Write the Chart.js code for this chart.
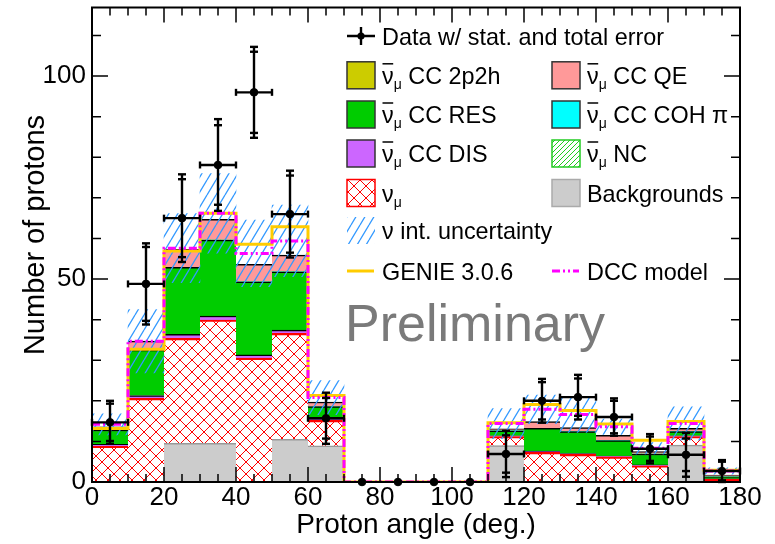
<!DOCTYPE html>
<html>
<head>
<meta charset="utf-8">
<script src="https://cdn.jsdelivr.net/npm/chart.js@4.4.1/dist/chart.umd.min.js"></script>
<style>
  body { margin: 0; background: #fff; }
  #wrap { width: 775px; height: 544px; }
</style>
</head>
<body>
<div id="wrap"><canvas id="chart" width="775" height="544"></canvas></div>
<script>
const FONT = '"Liberation Sans", Arial, Helvetica, sans-serif';

// proton angle bins (deg.)
const binEdges = [0, 10, 20, 30, 40, 50, 60, 70, 80, 90, 100, 110, 120, 130, 140, 150, 160, 170, 180];
const xTickLabels = [0, 20, 40, 60, 80, 100, 120, 140, 160, 180];
const yTickLabels = [0, 50, 100];

// stacked MC, bottom to top (number of protons per bin)
const backgrounds = [0, 0, 9.5, 9.5, 0, 10.5, 8.9, 0, 0, 0, 0, 9.0, 0, 0, 0, 0, 9.1, 0];
const numu        = [8.8, 20.6, 25.9, 30.4, 30.5, 26.1, 6.3, 0, 0, 0, 0, 2.2, 7.3, 6.8, 6.2, 4.0, 2.1, 0.7];
const ccDIS       = [0.5, 0.7, 1.0, 1.0, 0.8, 0.8, 0.3, 0, 0, 0, 0, 0.2, 0.3, 0.2, 0.2, 0.2, 0.2, 0.1];
const ccRES       = [3.5, 11.2, 16.5, 18.7, 18.0, 14.4, 3.1, 0, 0, 0, 0, 1.2, 5.6, 5.4, 3.8, 2.7, 1.0, 0.5];
const ccCOH       = [0, 0, 0, 0, 0, 0, 0, 0, 0, 0, 0, 0, 0, 0, 0, 0, 0, 0];
const cc2p2h      = [0, 0, 0, 0, 0, 0, 0, 0, 0, 0, 0, 0, 0, 0, 0, 0, 0, 0];
const ncBar       = [0, 0, 0, 0, 0, 0, 0, 0, 0, 0, 0, 0, 0, 0, 0, 0, 0, 0];
const ccQE        = [0.8, 2.2, 4.4, 5.1, 4.3, 4.1, 1.1, 0, 0, 0, 0, 0.5, 1.7, 1.0, 1.3, 0.6, 0.8, 0.4];

// model predictions
const genie = [13.2, 32.7, 56.9, 66.2, 58.6, 62.9, 21.3, 0, 0, 0, 0, 14.6, 19.1, 17.6, 14.3, 10.3, 14.9, 2.9];
const dcc   = [14.2, 34.7, 57.6, 66.2, 56.3, 59.4, 20.8, 0, 0, 0, 0, 14.4, 17.9, 16.6, 13.6, 8.3, 14.4, 2.7];
// interaction uncertainty, half width around the DCC prediction
const intErr = [2.6, 7.8, 8.5, 9.8, 8.2, 8.8, 4.2, 0, 0, 0, 0, 3.7, 3.5, 4.4, 1.9, 1.4, 4.1, 0.8];

// data
const dataVal = [14.7, 48.8, 65.0, 78.1, 96.0, 66.0, 15.7, 0, 0, 0, 0, 6.9, 20.0, 20.9, 16.0, 8.2, 6.7, 2.7];
const statErr = [4.6, 9.1, 9.6, 9.8, 10.0, 9.5, 5.0, 0, 0, 0, 0, 4.6, 4.6, 4.6, 4.0, 3.0, 4.0, 2.3];
const totErr  = [5.3, 10.0, 10.8, 11.3, 11.2, 10.7, 6.3, 0, 0, 0, 0, 5.7, 5.4, 5.5, 4.6, 3.6, 5.4, 2.7];

const binCenters = binEdges.slice(0, -1).map((e, i) => (e + binEdges[i + 1]) / 2);

const canvas = document.getElementById('chart');
const mainCtx = canvas.getContext('2d');

// hatch fills
function makeHatch(color, w, h, lw, cross) {
    const c = document.createElement('canvas');
    c.width = w; c.height = h;
    const g = c.getContext('2d');
    g.strokeStyle = color;
    g.lineWidth = lw;
    g.beginPath();
    for (const dx of [-w, 0, w]) {
        g.moveTo(dx, h); g.lineTo(dx + w, 0);
        if (cross) { g.moveTo(dx, 0); g.lineTo(dx + w, h); }
    }
    g.stroke();
    return mainCtx.createPattern(c, 'repeat');
}
const redCross = makeHatch('#ff0000', 12, 12, 1, true);
const blueHatch = makeHatch('#3399ff', 9, 15, 1.3, false);
const greenHatch = makeHatch('#22cc22', 5, 5, 1, false);

const pts = arr => binCenters.map((c, i) => ({ x: c, y: arr[i] }));
const stepPts = arr => binEdges.map((e, i) => ({ x: e, y: arr[Math.min(i, arr.length - 1)] }));

function barSet(label, arr, bg, border, order) {
    return {
        type: 'bar', label, data: pts(arr), order, stack: 'mc',
        backgroundColor: bg, borderColor: border,
        borderWidth: { top: 1.5, left: 0, right: 0, bottom: 0 },
        grouped: false, barPercentage: 1, categoryPercentage: 1
    };
}

const errorBars = {
    id: 'errorBars',
    afterDatasetsDraw(chart) {
        const ctx = chart.ctx, xs = chart.scales.x, ys = chart.scales.y;
        const seg = (a, b, c, d) => { ctx.beginPath(); ctx.moveTo(a, b); ctx.lineTo(c, d); ctx.stroke(); };
        ctx.save();
        ctx.strokeStyle = '#000';
        ctx.lineWidth = 2.4;
        dataVal.forEach((v, i) => {
            if (!totErr[i]) return;
            const px = xs.getPixelForValue(binCenters[i]);
            const py = ys.getPixelForValue(v);
            const x0 = xs.getPixelForValue(binEdges[i]);
            const x1 = xs.getPixelForValue(binEdges[i + 1]);
            seg(x0, py, x1, py);
            seg(x0, py - 3.5, x0, py + 3.5);
            seg(x1, py - 3.5, x1, py + 3.5);
            const yt = ys.getPixelForValue(v + totErr[i]);
            const yb = ys.getPixelForValue(Math.max(0, v - totErr[i]));
            seg(px, yt, px, yb);
            [v + totErr[i], v - totErr[i], v + statErr[i], v - statErr[i]].forEach(e => {
                const y = ys.getPixelForValue(Math.max(0, e));
                seg(px - 4, y, px + 4, y);
            });
        });
        ctx.restore();
    }
};

const frame = {
    id: 'frame',
    afterDatasetsDraw(chart) {
        const ctx = chart.ctx, xs = chart.scales.x, ys = chart.scales.y;
        const { left, right, top, bottom } = chart.chartArea;
        ctx.save();
        ctx.strokeStyle = '#000';
        ctx.lineWidth = 1.5;
        ctx.beginPath();
        for (let v = 0; v <= 180; v += 5) {
            const p = xs.getPixelForValue(v);
            const len = v % 20 === 0 ? 15 : 8;
            ctx.moveTo(p, bottom); ctx.lineTo(p, bottom - len);
            ctx.moveTo(p, top); ctx.lineTo(p, top + len);
        }
        for (let v = 0; v <= ys.max; v += 10) {
            const p = ys.getPixelForValue(v);
            const len = v % 50 === 0 ? 16 : 9;
            ctx.moveTo(left, p); ctx.lineTo(left + len, p);
            ctx.moveTo(right, p); ctx.lineTo(right - len, p);
        }
        ctx.stroke();
        ctx.lineWidth = 2;
        ctx.strokeRect(left, top, right - left, bottom - top);

        // y title, centred a little above the axis middle like the original
        ctx.translate(36, 235);
        ctx.rotate(-Math.PI / 2);
        ctx.font = '29px ' + FONT;
        ctx.fillStyle = '#000';
        ctx.textAlign = 'center';
        ctx.textBaseline = 'middle';
        ctx.fillText('Number of protons', 0, 0);
        ctx.restore();
    }
};

// legend + label
const legendRows = [36, 75.3, 114.5, 153.5, 193, 230.5, 271];
const legendCols = [347, 552];
const NUBAR = [['ν', 'bar'], ['μ', 'sub']];
const legendItems = [
    { col: 0, row: 0, kind: 'data', parts: [['Data w/ stat. and total error']] },
    { col: 0, row: 1, kind: 'box', fill: '#cccc00', stroke: '#333', parts: [...NUBAR, [' CC 2p2h']] },
    { col: 1, row: 1, kind: 'box', fill: '#ff9999', stroke: '#333', parts: [...NUBAR, [' CC QE']] },
    { col: 0, row: 2, kind: 'box', fill: '#00cc00', stroke: '#333', parts: [...NUBAR, [' CC RES']] },
    { col: 1, row: 2, kind: 'box', fill: '#00ffff', stroke: '#333', parts: [...NUBAR, [' CC COH π']] },
    { col: 0, row: 3, kind: 'box', fill: '#cc66ff', stroke: '#333', parts: [...NUBAR, [' CC DIS']] },
    { col: 1, row: 3, kind: 'box', fill: greenHatch, stroke: '#22cc22', parts: [...NUBAR, [' NC']] },
    { col: 0, row: 4, kind: 'box', fill: redCross, stroke: '#ff0000', parts: [['ν'], ['μ', 'sub']] },
    { col: 1, row: 4, kind: 'box', fill: '#cccccc', stroke: '#aaaaaa', parts: [['Backgrounds']] },
    { col: 0, row: 5, kind: 'box', fill: blueHatch, stroke: null, parts: [['ν'], [' int. uncertainty']] },
    { col: 0, row: 6, kind: 'line', color: '#ffcc00', dash: [], parts: [['GENIE 3.0.6']] },
    { col: 1, row: 6, kind: 'line', color: '#ff00ff', dash: [8, 3, 2, 3, 2, 3], parts: [['DCC model']] }
];

function drawParts(ctx, x, base, parts) {
    let cx = x;
    for (const [t, kind] of parts) {
        if (kind === 'sub') {
            ctx.font = '14px ' + FONT;
            ctx.fillText(t, cx, base + 5);
            cx += ctx.measureText(t).width;
        } else {
            ctx.font = '23.4px ' + FONT;
            ctx.fillText(t, cx, base);
            const w = ctx.measureText(t).width;
            if (kind === 'bar') {
                ctx.beginPath();
                ctx.lineWidth = 1.5;
                ctx.moveTo(cx + 0.5, base - 20);
                ctx.lineTo(cx + w - 0.5, base - 20);
                ctx.stroke();
            }
            cx += w;
        }
    }
}

const legendBox = {
    id: 'legendBox',
    afterDraw(chart) {
        const ctx = chart.ctx;
        ctx.save();
        ctx.fillStyle = '#000';
        ctx.strokeStyle = '#000';
        ctx.textBaseline = 'alphabetic';
        for (const it of legendItems) {
            const x = legendCols[it.col];
            const cy = legendRows[it.row];
            if (it.kind === 'data') {
                ctx.lineWidth = 2.4;
                ctx.beginPath();
                ctx.moveTo(x, cy); ctx.lineTo(x + 28, cy);
                ctx.moveTo(x + 14, cy - 9); ctx.lineTo(x + 14, cy + 9);
                ctx.stroke();
                ctx.beginPath(); ctx.arc(x + 14, cy, 3.6, 0, Math.PI * 2); ctx.fill();
            } else if (it.kind === 'box') {
                ctx.fillStyle = it.fill;
                ctx.fillRect(x, cy - 13.5, 28, 27);
                if (it.stroke) {
                    ctx.strokeStyle = it.stroke;
                    ctx.lineWidth = 1.5;
                    ctx.strokeRect(x, cy - 13.5, 28, 27);
                }
                ctx.fillStyle = '#000';
                ctx.strokeStyle = '#000';
            } else {
                ctx.strokeStyle = it.color;
                ctx.lineWidth = 3;
                ctx.setLineDash(it.dash);
                ctx.beginPath(); ctx.moveTo(x, cy); ctx.lineTo(x + 27, cy); ctx.stroke();
                ctx.setLineDash([]);
                ctx.strokeStyle = '#000';
            }
            drawParts(ctx, x + 35, cy + 8.5, it.parts);
        }
        ctx.font = '52px ' + FONT;
        ctx.fillStyle = '#7a7a7a';
        ctx.fillText('Preliminary', 345, 341);
        ctx.restore();
    }
};

const whiteBg = {
    id: 'whiteBg',
    beforeDraw(chart) {
        const c = chart.ctx;
        c.save(); c.fillStyle = '#fff'; c.fillRect(0, 0, chart.width, chart.height); c.restore();
    }
};

new Chart(canvas, {
    type: 'bar',
    data: {
        datasets: [
            { type: 'line', label: 'Data', data: pts(dataVal), order: -1, stack: 'data', showLine: false,
              pointRadius: 3.8, pointBackgroundColor: '#000', pointBorderColor: '#000', clip: false },
            { type: 'line', label: 'DCC model', data: stepPts(dcc), order: 0, stack: 'dcc', stepped: 'before',
              borderColor: '#ff00ff', borderWidth: 3, borderDash: [8, 3, 2, 3, 2, 3], pointRadius: 0, fill: false },
            { type: 'line', label: 'GENIE 3.0.6', data: stepPts(genie), order: 1, stack: 'genie', stepped: 'before',
              borderColor: '#ffcc00', borderWidth: 3, pointRadius: 0, fill: false },
            { type: 'bar', label: 'ν int. uncertainty', order: 2, stack: 'band',
              data: binCenters.map((c, i) => ({ x: c, y: intErr[i] > 0 ? [dcc[i] - intErr[i], dcc[i] + intErr[i]] : null })),
              backgroundColor: blueHatch, borderWidth: 0, grouped: false, barPercentage: 1, categoryPercentage: 1 },
            barSet('Backgrounds', backgrounds, '#cccccc', '#999999', 3),
            barSet('νμ', numu, redCross, '#ff0000', 4),
            barSet('CC DIS', ccDIS, '#cc66ff', '#000', 5),
            barSet('CC RES', ccRES, '#00cc00', '#000', 6),
            barSet('CC COH π', ccCOH, '#00ffff', '#000', 7),
            barSet('CC 2p2h', cc2p2h, '#cccc00', '#000', 8),
            barSet('NC', ncBar, greenHatch, '#22cc22', 9),
            barSet('CC QE', ccQE, '#ff9999', '#000', 10)
        ]
    },
    options: {
        responsive: false,
        devicePixelRatio: 1,
        animation: false,
        events: [],
        layout: { padding: { left: 0, right: 35, top: 7.5, bottom: 0 } },
        plugins: { legend: { display: false }, tooltip: { enabled: false } },
        scales: {
            x: {
                type: 'linear', min: 0, max: 180, offset: false, stacked: true,
                grid: { display: false, offset: false, drawTicks: false }, border: { display: false },
                afterBuildTicks: s => { s.ticks = xTickLabels.map(v => ({ value: v })); },
                ticks: { color: '#000', font: { family: FONT, size: 26 }, padding: 0, maxRotation: 0, autoSkip: false },
                title: { display: true, text: 'Proton angle (deg.)', color: '#000',
                         font: { family: FONT, size: 28 }, padding: { top: 0, bottom: 2 } },
                afterFit: s => { s.height = 62; s.paddingLeft = 0; s.paddingRight = 0; }
            },
            y: {
                type: 'linear', min: 0, max: 116.9, stacked: true,
                grid: { display: false, drawTicks: false }, border: { display: false },
                afterBuildTicks: s => { s.ticks = yTickLabels.map(v => ({ value: v })); },
                ticks: { color: '#000', font: { family: FONT, size: 26 }, padding: 6 },
                afterFit: s => { s.width = 92; s.paddingTop = 0; s.paddingBottom = 0; }
            }
        }
    },
    plugins: [whiteBg, errorBars, frame, legendBox]
});
</script>
</body>
</html>
